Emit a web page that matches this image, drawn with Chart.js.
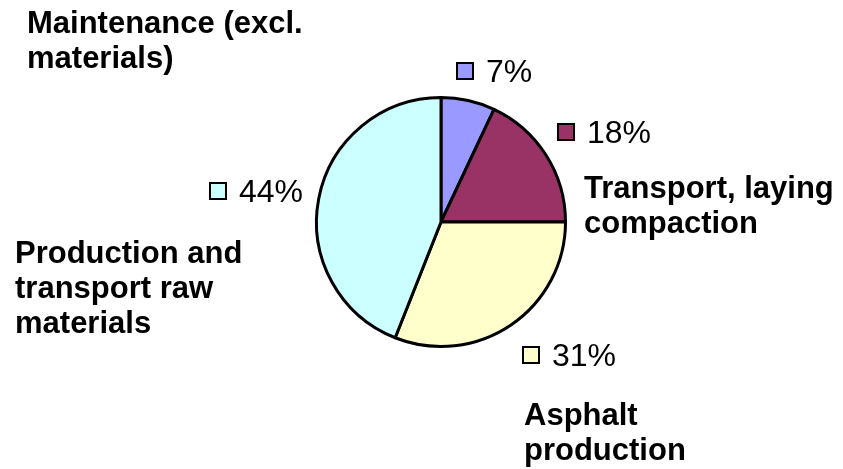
<!DOCTYPE html>
<html>
<head>
<meta charset="utf-8">
<script src="https://cdn.jsdelivr.net/npm/chart.js@4.4.1/dist/chart.umd.min.js"></script>
<style>
  html, body { margin: 0; padding: 0; background: #fff; }
  #pieChart { display: block; }
</style>
</head>
<body>
<canvas id="pieChart" width="843" height="469"></canvas>
<script>
// Data for the pie (share of energy per life-cycle phase)
const categories = [
    'Maintenance (excl. materials)',
    'Transport, laying compaction',
    'Asphalt production',
    'Production and transport raw materials'
];
const shares = [7, 18, 31, 44];
const sliceColors = ['#9999FF', '#993366', '#FFFFCC', '#CCFFFF'];

// Category text split into lines, as in the picture
const categoryLines = [
    ['Maintenance (excl.', 'materials)'],
    ['Transport, laying', 'compaction'],
    ['Asphalt', 'production'],
    ['Production and', 'transport raw', 'materials']
];

// Where the texts sit (left x, first baseline y)
const pctPos = [[456, 82], [557, 143], [522, 366], [209, 202]];
const namePos = [[27, 33], [584, 198], [524, 425], [15, 263]];

const boldFont = 'bold 31px "Liberation Sans", Arial, sans-serif';
const pctFont = '32px "Liberation Sans", Arial, sans-serif';
const lineStep = 35;

const pieLabels = {
    id: 'pieLabels',
    afterDraw(chart) {
        const ctx = chart.ctx;
        const values = chart.data.datasets[0].data;
        const total = values.reduce((a, b) => a + b, 0);
        ctx.save();
        ctx.textBaseline = 'alphabetic';
        ctx.textAlign = 'left';
        values.forEach((v, i) => {
            // percentage with small colour key
            const [px, py] = pctPos[i];
            ctx.fillStyle = sliceColors[i];
            ctx.strokeStyle = '#000';
            ctx.lineWidth = 2;
            ctx.fillRect(px + 1, py - 19, 16, 16);
            ctx.strokeRect(px + 1, py - 19, 16, 16);
            ctx.fillStyle = '#000';
            ctx.font = pctFont;
            ctx.fillText(Math.round(v / total * 100) + '%', px + 30, py);

            // category name
            const [nx, ny] = namePos[i];
            ctx.font = boldFont;
            categoryLines[i].forEach((line, k) => {
                ctx.fillText(line, nx, ny + k * lineStep);
            });
        });
        ctx.restore();
    }
};

const ctx = document.getElementById('pieChart').getContext('2d');
new Chart(ctx, {
    type: 'pie',
    data: {
        labels: categories,
        datasets: [{
            data: shares,
            backgroundColor: sliceColors,
            borderColor: '#000',
            borderWidth: 3
        }]
    },
    options: {
        responsive: false,
        animation: false,
        events: [],
        layout: {
            padding: { left: 315, right: 276, top: 96, bottom: 121 }
        },
        plugins: {
            legend: { display: false },
            tooltip: { enabled: false }
        }
    },
    plugins: [pieLabels]
});
</script>
</body>
</html>
